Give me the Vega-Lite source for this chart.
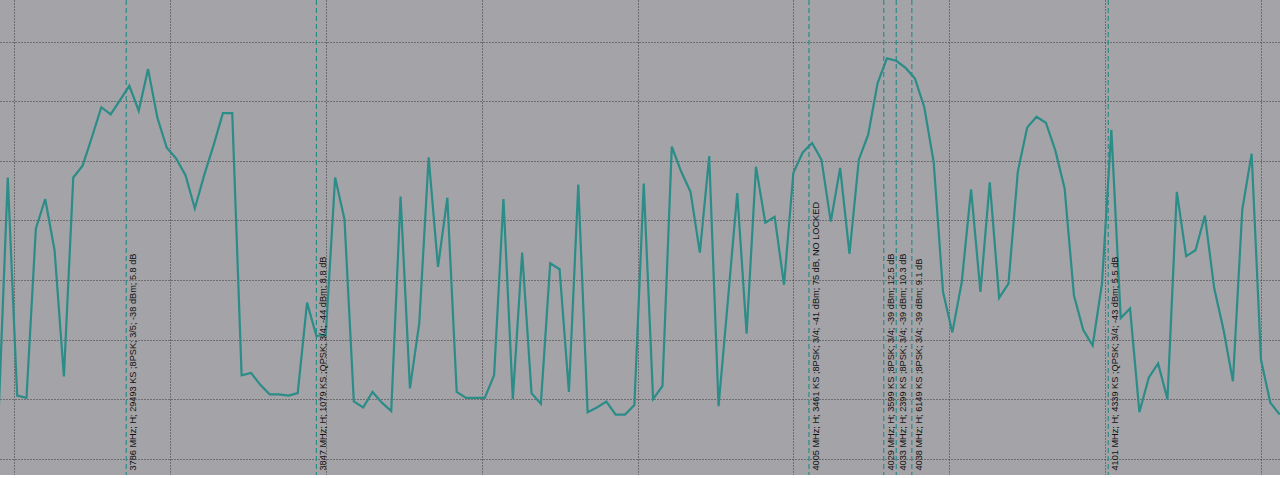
{
  "$schema": "https://vega.github.io/schema/vega-lite/v6.json",
  "width": 1280,
  "height": 475,
  "padding": 0,
  "autosize": {"type": "none"},
  "background": "white",
  "config": {
    "view": {"fill": "#a4a4a8", "stroke": null},
    "axis": {"labels": false, "ticks": false, "domain": false, "title": null, "grid": true, "gridColor": "#2e2e2e", "gridDash": [1, 2], "gridWidth": 1, "gridOpacity": 0.9}
  },
  "datasets": {
    "trace": [
      {"f":3745,"v":-66.6},{"f":3748,"v":-46.4},{"f":3751,"v":-64.7},{"f":3754,"v":-64.9},{"f":3757,"v":-50.7},{"f":3760,"v":-48.2},{"f":3763,"v":-52.5},{"f":3766,"v":-63.1},{"f":3769,"v":-46.4},{"f":3772,"v":-45.4},{"f":3775,"v":-43.0},{"f":3778,"v":-40.5},{"f":3781,"v":-41.1},{"f":3784,"v":-39.9},{"f":3787,"v":-38.7},{"f":3790,"v":-40.8},{"f":3793,"v":-37.3},{"f":3796,"v":-41.4},{"f":3799,"v":-43.9},{"f":3802,"v":-44.8},{"f":3805,"v":-46.2},{"f":3808,"v":-49.0},{"f":3811,"v":-46.2},{"f":3814,"v":-43.7},{"f":3817,"v":-41.0},{"f":3820,"v":-41.0},{"f":3823,"v":-63.0},{"f":3826,"v":-62.8},{"f":3829,"v":-63.8},{"f":3832,"v":-64.6},{"f":3835,"v":-64.6},{"f":3838,"v":-64.7},{"f":3841,"v":-64.5},{"f":3844,"v":-56.9},{"f":3847,"v":-59.7},{"f":3850,"v":-59.6},{"f":3853,"v":-46.4},{"f":3856,"v":-49.9},{"f":3859,"v":-65.2},{"f":3862,"v":-65.7},{"f":3865,"v":-64.4},{"f":3868,"v":-65.3},{"f":3871,"v":-66.0},{"f":3874,"v":-48.0},{"f":3877,"v":-64.1},{"f":3880,"v":-58.6},{"f":3883,"v":-44.7},{"f":3886,"v":-53.9},{"f":3889,"v":-48.1},{"f":3892,"v":-64.4},{"f":3895,"v":-64.9},{"f":3898,"v":-64.9},{"f":3901,"v":-64.9},{"f":3904,"v":-63.0},{"f":3907,"v":-48.2},{"f":3910,"v":-65.0},{"f":3913,"v":-52.7},{"f":3916,"v":-64.5},{"f":3919,"v":-65.4},{"f":3922,"v":-53.6},{"f":3925,"v":-54.1},{"f":3928,"v":-64.4},{"f":3931,"v":-47.0},{"f":3934,"v":-66.1},{"f":3937,"v":-65.7},{"f":3940,"v":-65.2},{"f":3943,"v":-66.3},{"f":3946,"v":-66.3},{"f":3949,"v":-65.5},{"f":3952,"v":-46.9},{"f":3955,"v":-65.0},{"f":3958,"v":-63.9},{"f":3961,"v":-43.8},{"f":3964,"v":-45.9},{"f":3967,"v":-47.6},{"f":3970,"v":-52.7},{"f":3973,"v":-44.6},{"f":3976,"v":-65.6},{"f":3979,"v":-56.7},{"f":3982,"v":-47.7},{"f":3985,"v":-59.5},{"f":3988,"v":-45.5},{"f":3991,"v":-50.2},{"f":3994,"v":-49.7},{"f":3997,"v":-55.4},{"f":4000,"v":-46.0},{"f":4003,"v":-44.3},{"f":4006,"v":-43.5},{"f":4009,"v":-44.9},{"f":4012,"v":-50.1},{"f":4015,"v":-45.6},{"f":4018,"v":-52.8},{"f":4021,"v":-44.9},{"f":4024,"v":-42.8},{"f":4027,"v":-38.5},{"f":4030,"v":-36.4},{"f":4033,"v":-36.6},{"f":4036,"v":-37.2},{"f":4039,"v":-38.1},{"f":4042,"v":-40.5},{"f":4045,"v":-45.1},{"f":4048,"v":-56.0},{"f":4051,"v":-59.4},{"f":4054,"v":-55.2},{"f":4057,"v":-47.4},{"f":4060,"v":-56.0},{"f":4063,"v":-46.8},{"f":4066,"v":-56.5},{"f":4069,"v":-55.3},{"f":4072,"v":-45.9},{"f":4075,"v":-42.2},{"f":4078,"v":-41.3},{"f":4081,"v":-41.8},{"f":4084,"v":-44.1},{"f":4087,"v":-47.3},{"f":4090,"v":-56.3},{"f":4093,"v":-59.2},{"f":4096,"v":-60.5},{"f":4099,"v":-55.3},{"f":4102,"v":-42.4},{"f":4105,"v":-58.2},{"f":4108,"v":-57.4},{"f":4111,"v":-66.1},{"f":4114,"v":-63.2},{"f":4117,"v":-62.0},{"f":4120,"v":-65.0},{"f":4123,"v":-47.6},{"f":4126,"v":-53.0},{"f":4129,"v":-52.5},{"f":4132,"v":-49.6},{"f":4135,"v":-55.7},{"f":4138,"v":-59.2},{"f":4141,"v":-63.5},{"f":4144,"v":-49.1},{"f":4147,"v":-44.4},{"f":4150,"v":-61.7},{"f":4153,"v":-65.3},{"f":4156,"v":-66.3}
    ],
    "markers": [
      {"f":3786,"label":"3786 MHz; H; 29493 KS ;8PSK; 3/5; -38 dBm; 5.8 dB"},
      {"f":3847,"label":"3847 MHz; H; 1079 KS ;QPSK; 3/4; -44 dBm; 8.8 dB"},
      {"f":4005,"label":"4005 MHz; H; 3461 KS ;8PSK; 3/4; -41 dBm; 75 dB, NO LOCKED"},
      {"f":4029,"label":"4029 MHz; H; 3599 KS ;8PSK; 3/4; -39 dBm; 12.5 dB"},
      {"f":4033,"label":"4033 MHz; H; 2399 KS ;8PSK; 3/4; -39 dBm; 10.3 dB"},
      {"f":4038,"label":"4038 MHz; H; 6149 KS ;8PSK; 3/4; -39 dBm; 9.1 dB"},
      {"f":4101,"label":"4101 MHz; H; 4339 KS ;QPSK; 3/4; -43 dBm; 5.5 dB"}
    ]
  },
  "layer": [
    {
      "data": {"name": "trace"},
      "mark": {"type": "line", "color": "#2b8c88", "strokeWidth": 2.2, "clip": true},
      "encoding": {
        "x": {"field": "f", "type": "quantitative", "scale": {"domain": [3745.5, 4156.1], "nice": false, "zero": false}, "axis": {"values": [3750, 3800, 3850, 3900, 3950, 4000, 4050, 4100, 4150]}},
        "y": {"field": "v", "type": "quantitative", "scale": {"domain": [-71.37, -31.5], "nice": false, "zero": false}, "axis": {"values": [-70, -65, -60, -55, -50, -45, -40, -35]}}
      }
    },
    {
      "data": {"name": "markers"},
      "mark": {"type": "rule", "color": "#2b8c88", "strokeWidth": 1.2, "strokeDash": [5, 3]},
      "encoding": {
        "x": {"field": "f", "type": "quantitative"}
      }
    },
    {
      "data": {"name": "markers"},
      "mark": {"type": "text", "angle": 270, "align": "left", "baseline": "top", "dy": 3, "font": "Liberation Sans", "fontSize": 9.2, "color": "#111111"},
      "encoding": {
        "x": {"field": "f", "type": "quantitative"},
        "y": {"datum": -71.0},
        "text": {"field": "label"}
      }
    }
  ]
}
